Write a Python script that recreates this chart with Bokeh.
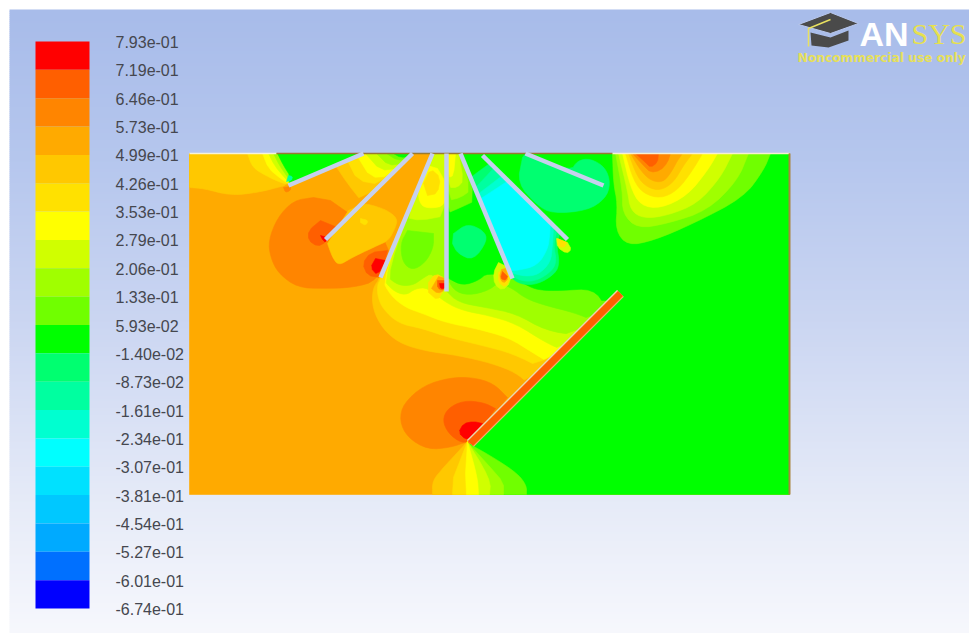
import numpy as np
from bokeh.plotting import figure
from bokeh.models import Range1d, ColumnDataSource
from bokeh.core.properties import value
from bokeh.embed import file_html
from bokeh.resources import INLINE

# colour scale
tick_labels = ["7.93e-01","7.19e-01","6.46e-01","5.73e-01","4.99e-01","4.26e-01","3.53e-01",
               "2.79e-01","2.06e-01","1.33e-01","5.93e-02","-1.40e-02","-8.73e-02","-1.61e-01",
               "-2.34e-01","-3.07e-01","-3.81e-01","-4.54e-01","-5.27e-01","-6.01e-01","-6.74e-01"]
band_colors = ["#FF0000","#FF5F00","#FF8500","#FFAA00","#FFC800","#FFE100","#FFFF00","#D0FF00",
               "#A0FF00","#70FF00","#00FF00","#00FF70","#00FFA0","#00FFD0","#00FFFF","#00E1FF",
               "#00C8FF","#00AAFF","#0070FF","#0000FF"]
RED,OR1,OR2,AMB,GOL,PAL,YEL,LI1,LI2,LI3,GRN,SP1,SP2,SP3,CYA = range(15)

# background stops
bg_y = [9, 160, 320, 500, 633]
bg_c = [(168,188,234),(182,199,238),(203,214,242),(230,235,248),(247,248,253)]

# domain
dom_x = [189, 789]
dom_y = [153, 494]
base = [(189,153),(789,153),(789,494),(189,494)]

# top-left lobe
tl_gol = [(189,153),(189,187),(189,187),(203,188),(230,195),(257,192),(277,187),(288,184),(300,153)]
tl_pal = [(247,153),(252,167),(265,175),(280,182),(288,184),(296,178),(300,153)]
tl_yel = [(262,153),(268,168),(280,178),(288,183),(296,178),(300,153)]
tl_li1 = [(268,153),(274,165),(283,176),(289,182),(297,178),(300,153)]
tl_li2 = [(273,153),(279,165),(286,175),(290,181),(298,176),(300,153)]
tl_grn = [(277,153),(283,165),(290,176),(288,184),(363,153)]
tip_spr = [(286,181),(291,180),(292,176),(288,175)]
tip_org = [(283,187),(285,192),(290,190),(290,186)]

# between blades 1 and 2
b12_gol = [(335,165),(347,183),(362,202),(412,153),(412,153),(363,153)]
b12_pal = [(347,160),(357,180),(380,184),(412,153),(412,153),(363,153)]
b12_yel = [(357,156),(370,177),(388,176),(412,153),(412,153),(363,153)]
b12_li1 = [(365,153),(380,170),(397,168),(412,153)]
b12_li2 = [(376,153),(388,165),(402,163),(412,153)]
b12_li3 = [(386,153),(397,160),(407,158),(412,153)]
b12_grn = [(393,153),(400,157),(409,156),(412,153)]

# blob round the tips of blades 2 and 3
blob_or2 = [(313,197),(293,200),(277,217),(268,240),(270,257),(278,273),(297,287),(323,288),
            (353,287),(377,280),(394,245),(347,212),(330,200)]
wedge_gol = [(327,243),(332,257),(338,265),(350,258),(362,252),(377,245),(388,240),(395,227),
             (397,218),(387,210),(373,205),(363,203),(348,210)]
wedge_pal = [(360,218),(368,220),(365,225),(360,222)]
tip2_or1 = [(320,220),(308,230),(308,240),(317,246),(325,242),(337,227)]
tip2_red = [(320,235),(327,237),(325,242),(322,239)]
tip3_or1 = [(387,250),(370,252),(362,263),(367,275),(380,277)]
tip3_red = [(375,258),(370,267),(377,275),(385,260)]

# central fan below the blades
c_gol = [(432,153),(380,277),(372,288),(372,308),(382,328),(398,342),(422,350),(458,355),(492,363),(515,372),(529,384),(660,253),(660,153)]
c_pal = [(432,153),(380,279),(377,284),(377,295),(382,308),(398,323),(422,328),(448,337),(482,345),(512,353),(544,369),(660,253),(660,153)]
c_yel = [(432,153),(381,278),(390,295),(405,307),(422,313),(445,322),(475,328),(508,337),(532,352),(550,363),(660,253),(660,153)]
c_li1 = [(432,153),(382,278),(392,290),(405,295),(415,288),(427,287),(445,302),(462,310),(488,315),(515,323),(545,342),(563,350),(660,253),(660,153)]
c_li2 = [(432,153),(385,275),(398,285),(412,285),(422,278),(432,272),(445,290),(458,302),(485,307),(515,313),(545,330),(578,335),(660,253),(660,153)]
c_li3 = [(446,153),(446,275),(453,290),(468,295),(488,290),(498,282),(512,288),(525,298),(545,305),(573,312),(593,320),(660,253),(660,153)]
c_grn = [(446,153),(446,276),(448,278),(462,285),(478,280),(487,272),(515,278),(532,288),(545,290),(560,290),(593,288),(606,307),(660,253),(660,153)]

# pocket between blades 3 and 4
p34_blob = [(407,230),(400,243),(402,262),(412,270),(425,262),(433,247),(433,233)]
p34_li1 = [(432,153),(405,217),(420,220),(446,215),(446,153)]
p34_yel = [(427,165),(417,190),(420,205),(430,208),(445,205),(446,183),(437,168)]
p34_pal = [(423,183),(430,168),(440,177),(437,193),(427,195)]

# pocket between blades 4 and 5
p45_li3 = [(446,153),(446,213),(460,207),(475,200),(462,153)]
p45_li2 = [(446,153),(448,200),(460,197),(470,190),(460,153)]
p45_li1 = [(446,153),(448,187),(457,187),(463,180),(458,153)]
p45_yel = [(446,153),(448,177),(453,175),(455,153)]
p45_spr = [(453,233),(467,223),(483,230),(487,240),(473,260),(457,253),(452,243)]

# cool region between blades 5 and 6
cool_sp1 = [(489,163),(470,177),(470,177),(509,276),(509,276),(520,284),(537,284),(555,273),(559,262),(556,245),(559,234)]
cool_sp2 = [(493,168),(475,187),(475,187),(509,274),(509,274),(522,281),(537,280),(552,270),(556,260),(553,245),(556,232)]
cool_sp3 = [(502,175),(477,194),(477,194),(509,272),(509,272),(525,276),(538,274),(550,262),(552,245),(553,227)]
cool_cya = [(479,199),(479,199),(508,180),(508,180),(550,222),(550,222),(549,237),(547,249),(537,265),(517,270),(509,270),(509,270)]

# region between blades 6 and 7 and above blade 7
b67_sp = [(522,157),(517,183),(537,205),(552,213),(587,210),(605,198),(610,183),(605,167),(590,158),(577,160),(570,171),(525,153)]

# right-hand field
right_grn = [(620,293),(620,153),(789,153),(789,494),(470,494),(470,443)]

# hot lobe at the top right
h_li3 = [(612,153),(613,183),(617,203),(615,230),(627,245),(653,240),(693,223),(743,197),(763,170),(770,153)]
h_li2 = [(615,153),(622,190),(622,213),(637,228),(667,223),(707,210),(737,180),(748,153)]
h_li1 = [(618,153),(627,190),(630,210),(643,218),(667,215),(697,203),(720,177),(732,153)]
h_yel = [(622,153),(630,187),(640,205),(660,208),(687,195),(707,170),(717,153)]
h_pal = [(625,153),(633,180),(643,193),(660,198),(677,190),(692,170),(702,153)]
h_gol = [(628,153),(637,177),(647,187),(660,190),(673,182),(683,165),(692,153)]
h_amb = [(630,153),(640,170),(650,180),(662,182),(670,173),(677,160),(682,153)]
h_or2 = [(632,153),(643,165),(650,172),(660,170),(667,162),(670,153)]
h_or1 = [(635,153),(645,162),(650,167),(657,162),(658,153)]

# small spots at the blade tips
s6_li1 = [(556,238),(557,247),(566,253),(571,249),(567,242)]
s6_yel = [(557,238),(558,246),(564,247),(566,242)]
s4_pal = [(428,292),(437,300),(443,290),(445,278),(435,273),(428,282)]
s4_amb = [(431,288),(437,293),(444,290),(445,278),(438,276)]
s4_or1 = [(437,280),(437,288),(444,290),(444,280)]
s4_red = [(439,283),(440,288),(444,288),(444,283)]
s5_li1 = [(498,262),(493,272),(494,284),(502,290),(510,282),(510,268)]
s5_pal = [(498,272),(498,282),(505,287),(510,277),(505,267)]
s5_amb = [(501,269),(499,277),(503,283),(508,278),(505,268)]
s5_or1 = [(502,271),(500,278),(505,280),(507,276)]

# lobe at the plate's lower end
pl_or2 = [(507,397),(493,383),(473,377),(450,377),(423,385),(403,403),(399,420),(407,437),(427,449),(450,447),(467,441),(470,443)]
pl_or1 = [(495,408),(483,402),(463,400),(447,408),(442,420),(448,433),(460,442),(467,441),(470,443)]
pl_red = [(482,423),(473,421),(463,423),(458,432),(465,439),(470,437)]

# fan under the plate
f_li3 = [(468,443),(493,457),(517,473),(526,485),(526,494),(526,494),(468,494)]
f_li2 = [(468,443),(490,467),(503,482),(503,494),(503,494),(468,494)]
f_li1 = [(468,443),(483,467),(490,483),(489,494),(489,494),(468,494)]
f_gol = [(467,441),(470,460),(470,494),(470,494),(432,494),(432,494),(432,480),(443,467)]
f_pal = [(467,441),(470,460),(470,494),(470,494),(452,494),(452,494),(453,477)]
f_yel = [(467,441),(477,477),(478,494),(478,494),(466,494),(466,494),(465,473)]

paint_order = [
    (AMB,base),(GOL,tl_gol),(PAL,tl_pal),(YEL,tl_yel),(LI1,tl_li1),(LI2,tl_li2),(GRN,tl_grn),
    (SP2,tip_spr),(OR2,tip_org),
    (GOL,b12_gol),(PAL,b12_pal),(YEL,b12_yel),(LI1,b12_li1),(LI2,b12_li2),(LI3,b12_li3),(GRN,b12_grn),
    (OR2,blob_or2),(GOL,wedge_gol),(PAL,wedge_pal),(OR1,tip2_or1),(RED,tip2_red),(OR1,tip3_or1),(RED,tip3_red),
    (GOL,c_gol),(PAL,c_pal),(YEL,c_yel),(LI1,c_li1),(LI2,c_li2),(LI3,c_li3),(GRN,c_grn),
    (LI3,p34_blob),(LI1,p34_li1),(YEL,p34_yel),(PAL,p34_pal),
    (LI3,p45_li3),(LI2,p45_li2),(LI1,p45_li1),(YEL,p45_yel),(SP1,p45_spr),
    (SP1,cool_sp1),(SP2,cool_sp2),(SP3,cool_sp3),(CYA,cool_cya),
    (GRN,right_grn),(SP1,b67_sp),
    (LI3,h_li3),(LI2,h_li2),(LI1,h_li1),(YEL,h_yel),(PAL,h_pal),(GOL,h_gol),(AMB,h_amb),(OR2,h_or2),(OR1,h_or1),
    (LI1,s6_li1),(PAL,s6_yel),
    (PAL,s4_pal),(AMB,s4_amb),(OR1,s4_or1),(RED,s4_red),
    (LI1,s5_li1),(PAL,s5_pal),(AMB,s5_amb),(OR1,s5_or1),
    (OR2,pl_or2),(OR1,pl_or1),(RED,pl_red),
    (LI3,f_li3),(LI2,f_li2),(LI1,f_li1),(GOL,f_gol),(PAL,f_pal),(YEL,f_yel),
]
sharp_regions = [id(base), id(right_grn)]

# thin walls
blade_x0 = [288,325,380,446,512,567,603]
blade_y0 = [185,239,277,291,278,239,185]
blade_x1 = [363,412,432,446,460,482,525]
blade_y1 = [153,153,153,153,153,155,153]
plate_x = [620,470]
plate_y = [293,443]
plate_edge_x = [617,467]
plate_edge_y = [290,440]

# top edge of the domain: x-ranges and colours
edge_x0 = [189,276,362,612]
edge_x1 = [276,362,612,789]
edge_c = ["#F7F3D8","#9A7A30","#9A7A30","#F7F0D0"]


def round_corners(pts):
    """Corner-cutting of a contour outline; its two end points stay where they are."""
    out = list(pts)
    for _ in range(2 if len(pts) > 6 else 1):
        new = [out[0]]
        for a, b in zip(out[:-1], out[1:]):
            new.append((0.75*a[0]+0.25*b[0], 0.75*a[1]+0.25*b[1]))
            new.append((0.25*a[0]+0.75*b[0], 0.25*a[1]+0.75*b[1]))
        new.append(out[-1])
        out = new
    return out


p = figure(width=969, height=633, x_range=Range1d(0,969), y_range=Range1d(633,0),
           toolbar_location=None, output_backend="svg", min_border=0,
           background_fill_color="white", border_fill_color="white", outline_line_color=None)
p.xaxis.visible = False
p.yaxis.visible = False
p.grid.visible = False

# gradient backdrop
rows = np.arange(9, 633, 2)
r = np.interp(rows, bg_y, [c[0] for c in bg_c]).astype(int)
g = np.interp(rows, bg_y, [c[1] for c in bg_c]).astype(int)
b = np.interp(rows, bg_y, [c[2] for c in bg_c]).astype(int)
cols = ["#%02x%02x%02x" % t for t in zip(r, g, b)]
p.quad(left=9, right=969, top=rows, bottom=rows+2.6, fill_color=cols, line_color=None)

# contour regions
outlines = [pts if id(pts) in sharp_regions else round_corners(pts) for _, pts in paint_order]
xs = [[q[0] for q in pts] for pts in outlines]
ys = [[q[1] for q in pts] for pts in outlines]
cs = [band_colors[i] for i, _ in paint_order]
p.patches(xs="xs", ys="ys", fill_color="c", line_color="c", line_width=0.6,
          source=ColumnDataSource(dict(xs=xs, ys=ys, c=cs)))

# borders
p.segment(edge_x0, dom_y[0], edge_x1, dom_y[0], line_color=edge_c, line_width=1.5)
p.segment(dom_x[1], dom_y[0], dom_x[1], dom_y[1], line_color="#A8843C", line_width=2)

# blades and plate
p.segment(blade_x0, blade_y0, blade_x1, blade_y1, line_color="#C6D0EE", line_width=4.5, line_cap="butt")
p.line(plate_x, plate_y, line_color="#F2B070", line_width=9.5)
p.line(plate_edge_x, plate_edge_y, line_color="#E8D8B0", line_width=1.5)
p.line(plate_x, plate_y, line_color="#FF5F00", line_width=7)

# colour bar
n = len(band_colors)
tops = 41 + 28.35*np.arange(n)
p.quad(left=35, right=89, top=tops, bottom=tops+28.35, fill_color=band_colors, line_color=None)
p.text(x=115, y=41.5 + 28.35*np.arange(n+1), text=tick_labels, text_font=value("Liberation Sans"),
       text_font_size="16px", text_color="#45474F", text_baseline="middle", text_align="left")

# logo
cap_top = [(798,24),(830,12),(858,23),(830,33)]
cap_low = [(810,32),(811,45),(828,47),(848,40),(848,30),(830,37)]
tassel = [(830,19),(808,28),(808,46)]
p.patch([q[0] for q in cap_low],[q[1] for q in cap_low], fill_color="#4A4A4A", line_color=None)
p.patch([q[0] for q in cap_top],[q[1] for q in cap_top], fill_color="#4A4A4A", line_color="#B9C8EE", line_width=1)
p.line([q[0] for q in tassel],[q[1] for q in tassel], line_color="#E8E060", line_width=1.5)
p.text(x=[859], y=[33], text=["AN"], text_font=value("Liberation Sans"), text_font_style="bold",
       text_font_size="34px", text_color="#FFFFFF", text_baseline="middle")
p.text(x=[911], y=[33], text=["SYS"], text_font=value("Liberation Serif"), text_font_size="30px",
       text_color="#E6E050", text_baseline="middle")
p.text(x=[797], y=[57], text=["Noncommercial use only"], text_font=value("DejaVu Sans"), text_font_style="bold",
       text_font_size="12.2px", text_color="#E6E05A", text_baseline="middle")

open("out.html", "w").write(file_html(p, INLINE))
